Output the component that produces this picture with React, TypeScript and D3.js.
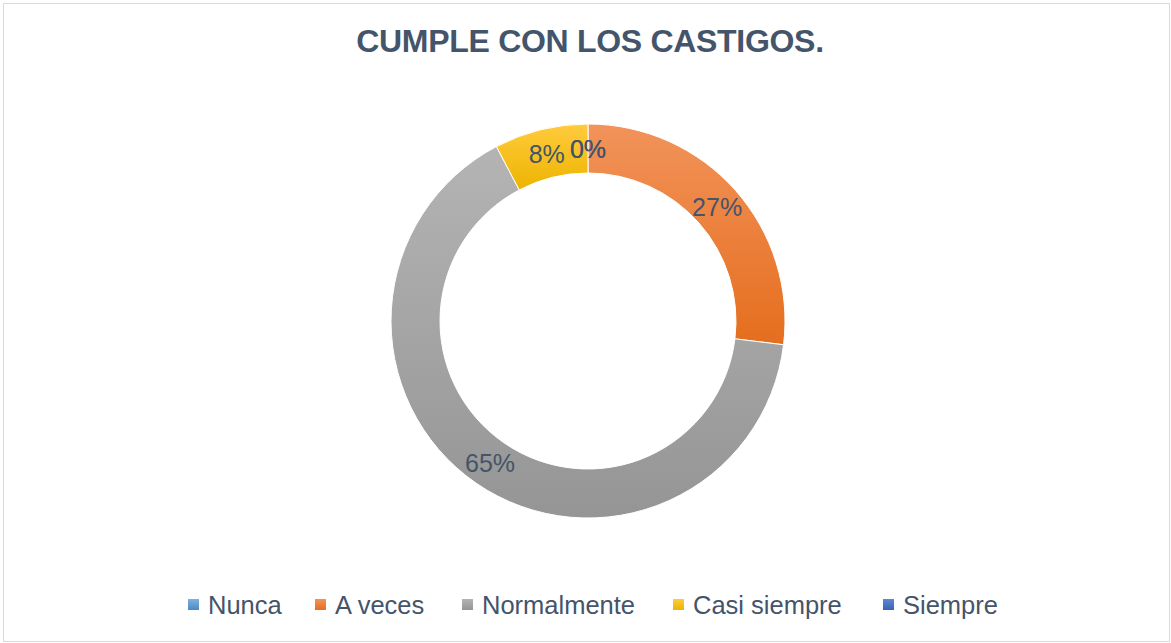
import React from "react";
import * as d3 from "d3";

const categories = ["Nunca", "A veces", "Normalmente", "Casi siempre", "Siempre"];
const values = [0, 7, 17, 2, 0];
const lightColors = ["#7FB1E0", "#F2935A", "#B4B4B4", "#FFCB3D", "#5F88D0"];
const darkColors = ["#4A89C4", "#E56E1E", "#959595", "#EDB400", "#3A64B4"];
const title = "CUMPLE CON LOS CASTIGOS.";

const W = 1171;
const H = 643;
const cx = 588;
const cy = 321;
const rOuter = 197;
const rInner = 148;
const textColor = "#44546A";

export default function App() {
  const total = d3.sum(values);
  const pie = d3.pie<number>().sort(null).value((d) => d)(values);
  const arc = d3.arc<d3.PieArcDatum<number>>().innerRadius(rInner).outerRadius(rOuter);
  const labelArc = d3
    .arc<d3.PieArcDatum<number>>()
    .innerRadius((rInner + rOuter) / 2)
    .outerRadius((rInner + rOuter) / 2);
  const fmt = (v: number) => `${Math.round((v / total) * 100)}%`;

  const legendX = [188, 315, 462, 673, 883];

  return (
    <svg width={W} height={H} style={{ position: "absolute", left: 0, top: 0 }} fontFamily="'Liberation Sans', Arial, sans-serif">
      <defs>
        {categories.map((c, i) => (
          <linearGradient key={c} id={`g${i}`} x1="0" y1="0" x2="0" y2="1">
            <stop offset="0%" stopColor={lightColors[i]} />
            <stop offset="100%" stopColor={darkColors[i]} />
          </linearGradient>
        ))}
      </defs>
      <rect x={3.5} y={3.5} width={W - 5} height={H - 5} fill="#fff" stroke="#D9D9D9" strokeWidth={1} />
      <text x={590} y={52} textAnchor="middle" fontSize={32} fontWeight="bold" fill={textColor} letterSpacing={-0.3}>
        {title}
      </text>
      <g transform={`translate(${cx},${cy})`}>
        {pie.map((d, i) =>
          d.value > 0 ? (
            <path key={i} d={arc(d) || ""} fill={`url(#g${i})`} stroke="#fff" strokeWidth={1} />
          ) : null
        )}
        {pie.map((d, i) => {
          const [x, y] = labelArc.centroid(d);
          return (
            <text key={i} x={x} y={y} dy="0.36em" textAnchor="middle" fontSize={25} fill={textColor}>
              {fmt(d.value)}
            </text>
          );
        })}
      </g>
      <g>
        {categories.map((c, i) => (
          <g key={c}>
            <rect x={legendX[i]} y={599} width={11} height={11} fill={`url(#g${i})`} />
            <text x={legendX[i] + 20} y={614} fontSize={25.5} fill={textColor}>
              {c}
            </text>
          </g>
        ))}
      </g>
    </svg>
  );
}
